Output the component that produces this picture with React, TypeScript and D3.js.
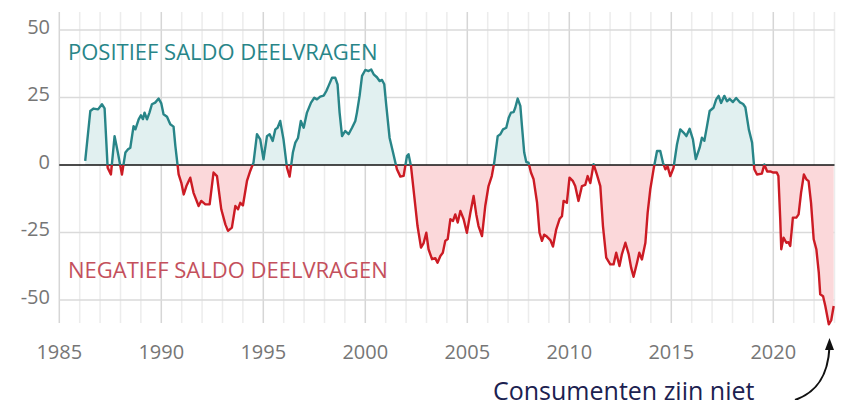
import React from "react";
import * as d3 from "d3";

const years: number[] = [
  1986.27, 1986.52, 1986.68, 1986.9, 1987.09, 1987.22, 1987.37, 1987.53, 1987.71, 1987.87,
  1988.07, 1988.24, 1988.37, 1988.48, 1988.64, 1988.73, 1988.89, 1989.0, 1989.1, 1989.18,
  1989.3, 1989.42, 1989.54, 1989.7, 1989.87, 1990.0, 1990.11, 1990.28, 1990.44, 1990.6,
  1990.69, 1990.85, 1990.98, 1991.1, 1991.23, 1991.42, 1991.58, 1991.83, 1991.96, 1992.16,
  1992.37, 1992.56, 1992.73, 1992.94, 1993.14, 1993.27, 1993.46, 1993.63, 1993.76, 1993.87,
  1994.0, 1994.2, 1994.36, 1994.52, 1994.69, 1994.85, 1995.01, 1995.18, 1995.31, 1995.46,
  1995.59, 1995.7, 1995.83, 1995.99, 1996.16, 1996.29, 1996.45, 1996.57, 1996.7, 1996.84,
  1996.98, 1997.14, 1997.34, 1997.5, 1997.63, 1997.79, 1997.96, 1998.09, 1998.2, 1998.37,
  1998.53, 1998.64, 1998.74, 1998.86, 1999.02, 1999.18, 1999.35, 1999.51, 1999.59, 1999.72,
  1999.84, 2000.0, 2000.16, 2000.29, 2000.41, 2000.57, 2000.7, 2000.82, 2000.93, 2001.03,
  2001.19, 2001.36, 2001.55, 2001.72, 2001.88, 2002.04, 2002.12, 2002.24, 2002.4, 2002.56,
  2002.73, 2002.86, 2002.99, 2003.1, 2003.27, 2003.43, 2003.54, 2003.68, 2003.8, 2003.92,
  2004.04, 2004.17, 2004.3, 2004.41, 2004.53, 2004.66, 2004.82, 2004.98, 2005.15, 2005.31,
  2005.44, 2005.55, 2005.72, 2005.88, 2006.04, 2006.2, 2006.32, 2006.49, 2006.62, 2006.75,
  2006.91, 2007.03, 2007.14, 2007.27, 2007.35, 2007.47, 2007.6, 2007.68, 2007.79, 2007.89,
  2008.0, 2008.12, 2008.25, 2008.42, 2008.54, 2008.66, 2008.77, 2008.9, 2009.07, 2009.2,
  2009.36, 2009.53, 2009.64, 2009.72, 2009.88, 2010.01, 2010.18, 2010.29, 2010.45, 2010.62,
  2010.78, 2010.9, 2011.03, 2011.19, 2011.35, 2011.52, 2011.65, 2011.81, 2012.01, 2012.17,
  2012.3, 2012.46, 2012.58, 2012.75, 2012.91, 2013.03, 2013.15, 2013.32, 2013.43, 2013.56,
  2013.73, 2013.84, 2013.97, 2014.13, 2014.3, 2014.46, 2014.59, 2014.71, 2014.82, 2014.95,
  2015.11, 2015.28, 2015.44, 2015.6, 2015.74, 2015.9, 2016.06, 2016.2, 2016.39, 2016.5,
  2016.62, 2016.75, 2016.88, 2017.07, 2017.2, 2017.32, 2017.44, 2017.6, 2017.73, 2017.86,
  2018.02, 2018.18, 2018.35, 2018.52, 2018.63, 2018.8, 2018.96, 2019.07, 2019.2, 2019.44,
  2019.56, 2019.7, 2019.85, 2020.0, 2020.17, 2020.25, 2020.34, 2020.39, 2020.5, 2020.64,
  2020.74, 2020.83, 2020.96, 2021.13, 2021.24, 2021.36, 2021.5, 2021.62, 2021.73, 2021.85,
  2021.98, 2022.11, 2022.23, 2022.3, 2022.44, 2022.55, 2022.72, 2022.84, 2022.96,
];

const values: number[] = [
  1.5, 20, 20.9, 20.6, 22.5, 21, -1, -3.5, 10.7, 4.6,
  -3.5, 4.6, 5.8, 6.4, 14.4, 13.2, 16.9, 18.4, 17, 19.4,
  16.9, 19.4, 22.5, 23.1, 24.6, 22.8, 18.8, 17.9, 15.1, 14.2,
  7, -3.5, -6.5, -10.9, -7.8, -4.7, -10.3, -15.2, -13.3, -14.6,
  -14.6, -2.8, -4.1, -16.4, -22, -24.4, -23.2, -15.2, -16.4, -14,
  -15, -5.9, -2.2, 0.9, 11.4, 9.5, 2.1, 10.7, 11.4, 8.9,
  13.2, 13.8, 16.3, 9.5, -1, -4.3, 4.6, 8.3, 10, 16.3,
  13.8, 19.4, 23.1, 24.9, 24.3, 25.3, 25.7, 27.4, 29.3, 32.3,
  32.3, 29.9, 19.4, 10.7, 12.6, 11.4, 13.8, 16.3, 19.4, 25.6,
  33, 35.2, 34.8, 35.4, 33.6, 32.5, 31.1, 31.5, 29.9, 21.9,
  10.1, 4.6, -1.6, -4.3, -4, 3.3, 4, -0.4, -11.5, -22.6,
  -30.6, -28.9, -25.1, -31.2, -34.9, -34.5, -36.2, -33.7, -32.5, -28.1,
  -27.4, -20.1, -20.7, -18.3, -21.3, -17, -20.1, -25.1, -17.7, -11.5,
  -18.3, -22.6, -26.3, -15.2, -7.8, -4.1, 0.9, 10.7, 11.4, 13.2,
  13.8, 17.5, 19.4, 19.6, 21.2, 24.6, 21.9, 14.4, 4.6, 1.1,
  0.9, -2.8, -5.3, -14, -25.1, -28.1, -25.8, -26.5, -27.8, -30.2,
  -23.8, -19.9, -19, -13.3, -14, -4.7, -6, -7.8, -13.3, -7.8,
  -7.4, -4.1, -6.7, 0.3, -3.5, -7.8, -22.6, -34.3, -36.8, -36.8,
  -32.5, -37.4, -33, -28.8, -33, -38, -41.4, -36.2, -32.5, -35,
  -28.8, -17.7, -9, -1.6, 5.2, 5.2, 0.9, -1.6, -0.6, -4.1,
  -1, 7.7, 13.2, 12, 10.7, 13.4, 9.5, 2.2, 6.4, 10.1,
  9, 14.4, 20, 21.2, 24.3, 25.6, 23, 25.6, 23.6, 24.5,
  23.3, 24.8, 23.3, 22.6, 21.4, 13.2, 8.3, -1.6, -3.5, -3.2,
  0.2, -2.4, -2.4, -2.8, -2.8, -4.1, -20.1, -31.2, -26.9, -28.8,
  -28.6, -30, -19.5, -19.5, -18.3, -10.3, -3.5, -5.3, -6, -14,
  -27.5, -31.2, -39.9, -47.9, -48.6, -52.2, -59, -57.5, -52.2,
];

const yTicks: number[] = [50, 25, 0, -25, -50];
const xTickYears: number[] = [1985, 1990, 1995, 2000, 2005, 2010, 2015, 2020];
const gridYears: number[] = d3.range(1985, 2024);

const labelPositive = "POSITIEF SALDO DEELVRAGEN";
const labelNegative = "NEGATIEF SALDO DEELVRAGEN";
const annotation = "Consumenten zijn niet";

const W = 854;
const H = 400;
const TOP = 12;
const BOTTOM = 323;
const FONT = "'Open Sans', 'Noto Sans', sans-serif";
const TEAL = "#288588";
const RED = "#cc1b24";

export default function App() {
  const x = d3.scaleLinear().domain([1985, 2023]).range([59.3, 834.5]);
  const y = d3.scaleLinear().domain([-50, 50]).range([300, 30]);
  const data = years.map((yr, i) => ({ yr, v: values[i] }));
  const y0 = y(0);

  const line = d3
    .line<{ yr: number; v: number }>()
    .x((d) => x(d.yr))
    .y((d) => y(d.v));
  const area = d3
    .area<{ yr: number; v: number }>()
    .x((d) => x(d.yr))
    .y0(y0)
    .y1((d) => y(d.v));

  const lp = line(data) || "";
  const ap = area(data) || "";

  return (
    <svg
      width={W}
      height={H}
      style={{ position: "absolute", left: 0, top: 0, background: "#fff" }}
      fontFamily={FONT}
    >
      <defs>
        <clipPath id="above">
          <rect x={0} y={0} width={W} height={y0} />
        </clipPath>
        <clipPath id="below">
          <rect x={0} y={y0} width={W} height={H - y0} />
        </clipPath>
      </defs>

      {gridYears.map((g) => (
        <line
          key={"v" + g}
          x1={x(g)}
          x2={x(g)}
          y1={TOP}
          y2={BOTTOM}
          stroke={g % 5 === 0 ? "#d6d6d6" : "#ececec"}
          strokeWidth={1.5}
        />
      ))}
      {yTicks
        .filter((t) => t !== 0)
        .map((t) => (
          <line
            key={"h" + t}
            x1={x(1985)}
            x2={x(2023)}
            y1={y(t)}
            y2={y(t)}
            stroke="#dadada"
            strokeWidth={1.5}
          />
        ))}

      <path d={ap} fill="#e1f0f0" clipPath="url(#above)" />
      <path d={ap} fill="#fbd8da" clipPath="url(#below)" />

      <line x1={x(1985)} x2={x(2023)} y1={y0} y2={y0} stroke="#111" strokeWidth={1.5} />

      <path d={lp} fill="none" stroke={TEAL} strokeWidth={2.4} strokeLinejoin="round" clipPath="url(#above)" />
      <path d={lp} fill="none" stroke={RED} strokeWidth={2.4} strokeLinejoin="round" clipPath="url(#below)" />

      {yTicks.map((t) => (
        <text key={"yt" + t} x={50} y={y(t) + 3.5} textAnchor="end" fontSize={20} fill="#767676">
          {t}
        </text>
      ))}
      {xTickYears.map((t) => (
        <text key={"xt" + t} x={x(t)} y={359} textAnchor="middle" fontSize={20} fill="#767676">
          {t}
        </text>
      ))}

      <text x={68} y={60} fontSize={22} fill={TEAL}>
        {labelPositive}
      </text>
      <text x={68} y={278} fontSize={22} fill="#c4505c">
        {labelNegative}
      </text>

      <text x={493} y={400} fontSize={25} fill="#1b2150">
        {annotation}
      </text>
      <path d="M 795 400 C 815 393, 828 378, 829.5 347" fill="none" stroke="#111" strokeWidth={2} />
      <path d="M 829.5 338 L 825 350 L 834 350 Z" fill="#111" />
    </svg>
  );
}
